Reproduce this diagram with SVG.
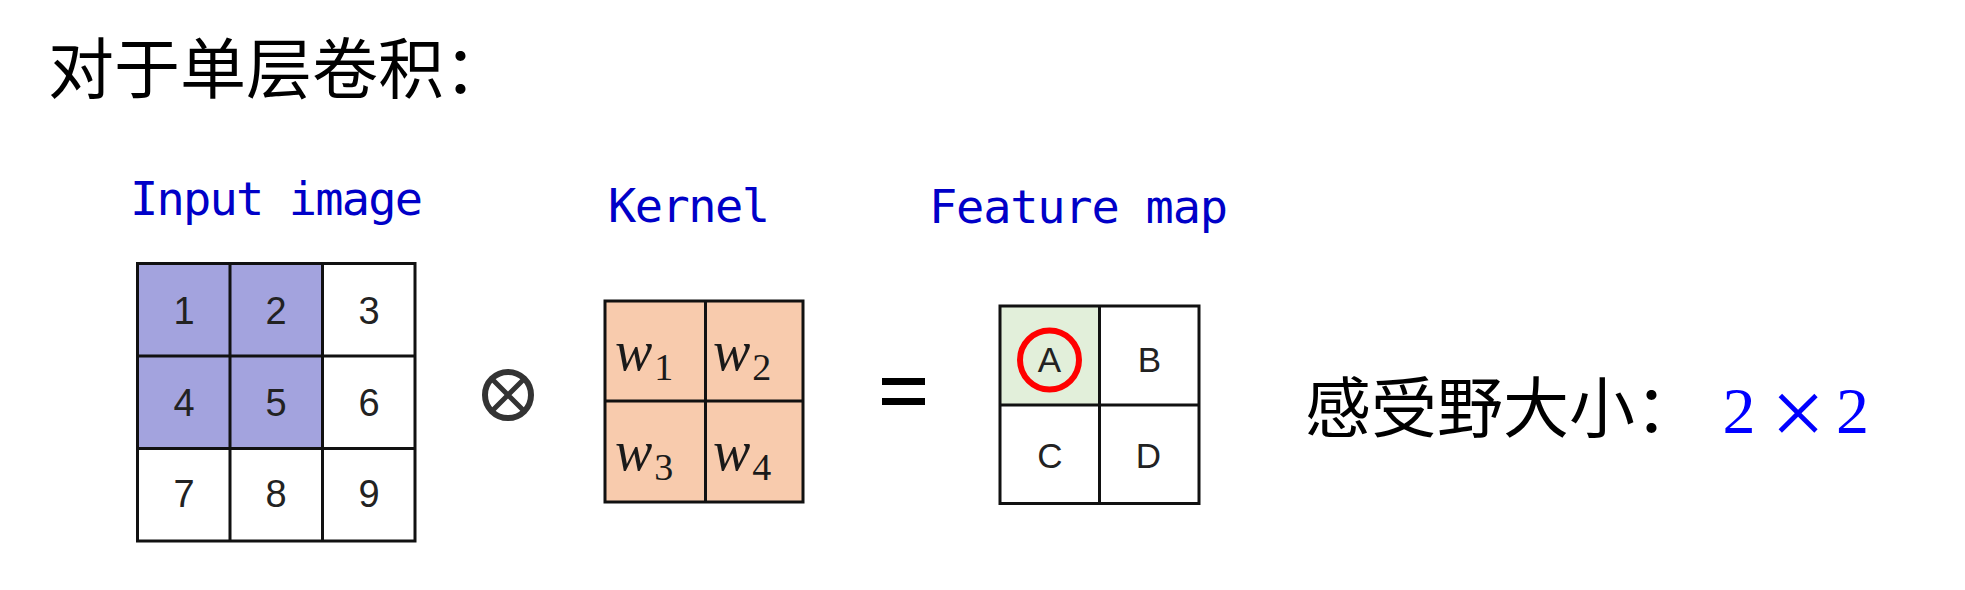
<svg xmlns="http://www.w3.org/2000/svg" width="1965" height="590" viewBox="0 0 1965 590">
<style>
.cjk{font-family:"Noto Sans CJK SC","Noto Sans CJK JP",sans-serif;fill:#000}
.lbl{font-family:"DejaVu Sans Mono","Liberation Mono",monospace;font-size:47px;fill:#0000C8}
.num{font-family:"Liberation Sans",Arial,sans-serif;font-size:38px;fill:#222;text-anchor:middle}
.let{font-family:"Liberation Sans",Arial,sans-serif;font-size:35px;fill:#222;text-anchor:middle}
.w{font-family:"Liberation Serif","Times New Roman",serif;font-style:italic;font-size:56px;fill:#1a1a1a}
.sub{font-style:normal;font-size:38px}
.grid{fill:none;stroke:#111;stroke-width:3}
.rf{font-family:"Liberation Serif","Times New Roman",serif;fill:#0000FF;text-anchor:middle}
</style>
<rect width="1965" height="590" fill="#fff"/>
<g id="title"><text class="cjk" x="48" y="93" font-size="66">对于单层卷积：</text></g>

<g id="input-image">
  <text class="lbl" x="130" y="215" textLength="293" lengthAdjust="spacing">Input image</text>
  <rect x="137.5" y="263.5" width="185" height="185" fill="#A3A3DE"/>
  <rect class="grid" x="137.5" y="263.5" width="277.5" height="277.5"/>
  <path class="grid" d="M230,263.5V541M322.5,263.5V541M137.5,356H415M137.5,448.5H415"/>
  <text class="num" x="184" y="323.5">1</text>
  <text class="num" x="276" y="323.5">2</text>
  <text class="num" x="369" y="323.5">3</text>
  <text class="num" x="184" y="415.5">4</text>
  <text class="num" x="276" y="415.5">5</text>
  <text class="num" x="369" y="415.5">6</text>
  <text class="num" x="184" y="507">7</text>
  <text class="num" x="276" y="507">8</text>
  <text class="num" x="369" y="507">9</text>
</g>

<g id="otimes">
  <circle cx="508" cy="395" r="23" fill="none" stroke="#333" stroke-width="6"/>
  <path d="M493,380L523,410M523,380L493,410" stroke="#333" stroke-width="5"/>
</g>

<g id="kernel">
  <text class="lbl" x="608" y="222" textLength="162" lengthAdjust="spacing">Kernel</text>
  <rect x="605" y="301" width="198" height="201" fill="#F8CBAD"/>
  <rect class="grid" x="605" y="301" width="198" height="201"/>
  <path class="grid" d="M705.5,301V502M605,401H803"/>
  <text class="w" x="615" y="370">w<tspan class="sub" dx="2" dy="10">1</tspan></text>
  <text class="w" x="713" y="370">w<tspan class="sub" dx="2" dy="10">2</tspan></text>
  <text class="w" x="615" y="470">w<tspan class="sub" dx="2" dy="10">3</tspan></text>
  <text class="w" x="713" y="470">w<tspan class="sub" dx="2" dy="10">4</tspan></text>
</g>

<g id="equals">
  <rect x="882" y="378" width="43" height="7" fill="#000"/>
  <rect x="882" y="398" width="43" height="7" fill="#000"/>
</g>

<g id="feature-map">
  <text class="lbl" x="929" y="223" textLength="299" lengthAdjust="spacing">Feature map</text>
  <rect x="1000" y="306" width="99.5" height="99" fill="#E2EFDA"/>
  <rect class="grid" x="1000" y="306" width="199" height="197.5"/>
  <path class="grid" d="M1099.5,306V503.5M1000,405H1199"/>
  <text class="let" x="1049.5" y="372">A</text>
  <text class="let" x="1149.5" y="372">B</text>
  <text class="let" x="1050" y="468">C</text>
  <text class="let" x="1148.5" y="468">D</text>
  <circle cx="1049.5" cy="360" r="29.5" fill="none" stroke="#FF0000" stroke-width="6"/>
</g>

<g id="receptive-field">
  <text class="cjk" x="1305" y="432" font-size="66">感受野大小：</text>
  <text class="rf" x="1739" y="433" font-size="66">2</text>
  <text class="rf" x="1798" y="445" font-size="96">×</text>
  <text class="rf" x="1852.5" y="433" font-size="66">2</text>
</g>
</svg>
